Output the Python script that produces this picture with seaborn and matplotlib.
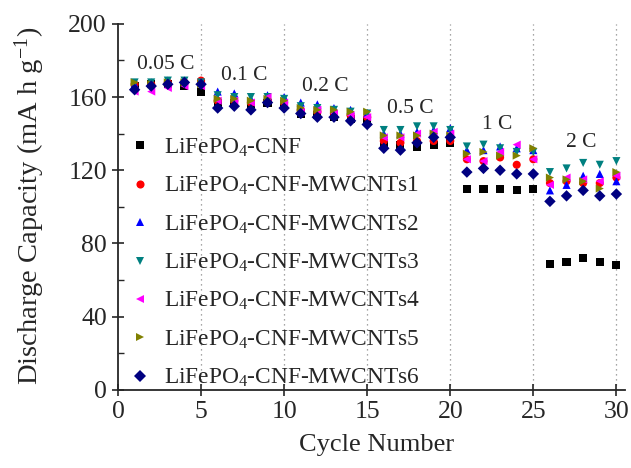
"""
Rate capability of LiFePO4-CNF composites
"""

import numpy as np
import pandas as pd
import matplotlib
matplotlib.use('Agg')
import matplotlib.pyplot as plt
from matplotlib.ticker import MultipleLocator
import seaborn as sns

# Data
cycles = list(range(1, 31))

cnf = [166, 167, 167, 166, 163, 157, 157, 156, 157, 156,
       151, 150, 149, 148, 147, 135, 134, 133, 134, 135,
       110, 110, 110, 109, 110, 69, 70, 72, 70, 68]
mw1 = [167, 167, 168, 168, 169, 158, 158, 157, 158, 157,
       153, 152, 151, 150, 149, 136, 135, 136, 136, 136,
       126, 125, 127, 123, 126, 113, 114, 113, 113, 116]
mw2 = [167, 168, 169, 169, 168, 163, 162, 159, 161, 160,
       157, 156, 154, 153, 151, 140, 140, 141, 142, 143,
       131, 131, 133, 132, 131, 109, 112, 117, 118, 114]
mw3 = [168, 168, 169, 169, 168, 161, 160, 160, 160, 159,
       155, 154, 153, 152, 151, 142, 142, 144, 144, 142,
       133, 134, 132, 130, 130, 119, 121, 124, 123, 125]
mw4 = [163, 163, 165, 166, 166, 158, 158, 157, 160, 157,
       152, 153, 151, 150, 149, 138, 138, 140, 141, 140,
       126, 125, 130, 134, 126, 112, 116, 115, 114, 117]
mw5 = [168, 167, 168, 168, 167, 159, 159, 158, 159, 158,
       154, 153, 153, 152, 152, 139, 139, 139, 140, 139,
       129, 130, 128, 128, 132, 116, 115, 114, 110, 119]
mw6 = [164, 166, 167, 168, 167, 154, 155, 153, 157, 154,
       151, 149, 149, 147, 145, 132, 131, 135, 138, 138,
       119, 121, 120, 118, 118, 103, 106, 109, 106, 107]

labels = [r'LiFePO$_4$-CNF',
          r'LiFePO$_4$-CNF-MWCNTs1',
          r'LiFePO$_4$-CNF-MWCNTs2',
          r'LiFePO$_4$-CNF-MWCNTs3',
          r'LiFePO$_4$-CNF-MWCNTs4',
          r'LiFePO$_4$-CNF-MWCNTs5',
          r'LiFePO$_4$-CNF-MWCNTs6']
series = [cnf, mw1, mw2, mw3, mw4, mw5, mw6]

rates = ['0.05 C', '0.1 C', '0.2 C', '0.5 C', '1 C', '2 C']
rate_x = [2.9, 7.6, 12.5, 17.6, 22.8, 27.9]
rate_y = [178, 172, 166, 154, 145, 135]
boundaries = [5, 10, 15, 20, 25, 30]

colors = ['black', '#ff0000', '#0000ff', '#008080', '#ff00ff', '#808000', '#000080']
markers = ['s', 'o', '^', 'v', '<', '>', 'D']

df = pd.DataFrame({
    'cycle': np.tile(cycles, len(series)),
    'capacity': np.concatenate(series),
    'sample': np.repeat(labels, len(cycles)),
})

sns.set_style('ticks')
plt.rcParams['font.family'] = ['Liberation Serif', 'DejaVu Serif']
plt.rcParams['mathtext.fontset'] = 'custom'
plt.rcParams['mathtext.rm'] = 'Liberation Serif'
plt.rcParams['mathtext.it'] = 'Liberation Serif:italic'

fig = plt.figure(figsize=(6.31, 4.68), dpi=100)
ax = fig.add_axes([0.187, 0.167, 0.803, 0.782])

for b in boundaries:
    ax.axvline(b, color='#888888', linestyle=(0, (1, 3)), lw=0.9, zorder=0)

sns.scatterplot(data=df, x='cycle', y='capacity', hue='sample', style='sample',
                palette=colors, markers=markers, hue_order=labels, style_order=labels,
                s=34, linewidth=0, ax=ax, zorder=3)

for t, x, y in zip(rates, rate_x, rate_y):
    ax.text(x, y, t, fontsize=15.5, ha='center', va='center')

ax.set_xlim(0, 30.5)
ax.set_ylim(0, 200)
ax.xaxis.set_major_locator(MultipleLocator(5))
ax.yaxis.set_major_locator(MultipleLocator(40))
ax.yaxis.set_minor_locator(MultipleLocator(20))
ax.tick_params(axis='both', which='major', direction='inout', length=8, width=1.2,
               labelsize=18.5, pad=4)
ax.tick_params(axis='y', which='minor', direction='in', length=4, width=1)
ax.set_xlabel('Cycle Number', fontsize=19)
ax.set_ylabel(r'Discharge Capacity (mA h g$^{-1}$)', fontsize=20.5)
ax.xaxis.set_label_coords(0.51, -0.12)
ax.yaxis.set_label_coords(-0.14, 0.503)
for side in ['top', 'right']:
    ax.spines[side].set_visible(False)
for side in ['left', 'bottom']:
    ax.spines[side].set_linewidth(1.3)

handles, _ = ax.get_legend_handles_labels()
ax.legend(handles, labels, loc='upper left', bbox_to_anchor=(0.02, 0.692),
          frameon=False, fontsize=16.8, labelspacing=0.69, handlelength=1.0,
          handletextpad=0.55, borderpad=0, borderaxespad=0, markerscale=1.0)

plt.savefig('out.png', dpi=100)
plt.close()
